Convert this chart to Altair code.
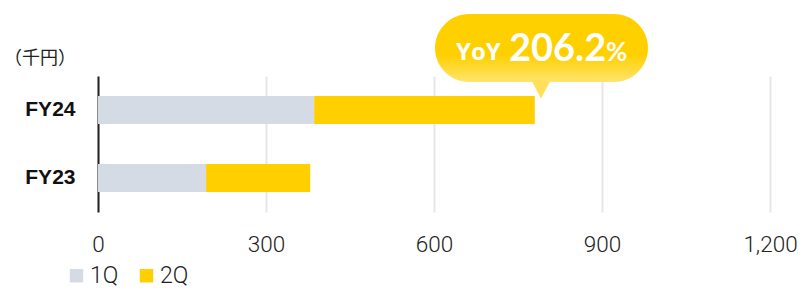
import altair as alt
import pandas as pd

years = ["FY24", "FY24", "FY23", "FY23"]
quarters = ["1Q", "2Q", "1Q", "2Q"]
values = [386, 394, 193, 186]
order_vals = [1, 2, 1, 2]
tick_values = [0, 300, 600, 900, 1200]
series_names = ["1Q", "2Q"]
series_colors = ["#d5dbe4", "#ffcf00"]
unit_label = "（千円）"
yoy_prefix = "YoY"
yoy_value = "206.2"
yoy_suffix = "%"

df = pd.DataFrame({"year": years, "quarter": quarters, "value": values, "ord": order_vals})

W, H = 672, 136
NUM_FONT = "Roboto"

bars = alt.Chart(df).mark_bar().encode(
    y=alt.Y("year:N", sort=["FY24", "FY23"],
            scale=alt.Scale(paddingInner=0.59, paddingOuter=0.295),
            axis=alt.Axis(title=None, ticks=False, domain=True, domainColor="#222222",
                          domainWidth=2, labelFont="Liberation Sans", labelFontWeight="bold",
                          labelFontSize=21, labelColor="#111111", labelPadding=23, grid=False)),
    x=alt.X("value:Q", stack="zero",
            scale=alt.Scale(domain=[0, 1200], nice=False),
            axis=alt.Axis(title=None, values=tick_values, format=",d", ticks=False, domain=False,
                          grid=True, gridColor="#e6e6e6", gridWidth=2, labelFlush=False,
                          labelFont=NUM_FONT, labelFontWeight=300, labelFontSize=22.5,
                          labelColor="#222222", labelPadding=21)),
    color=alt.Color("quarter:N",
                    scale=alt.Scale(domain=series_names, range=series_colors),
                    legend=alt.Legend(title=None, orient="none", legendX=-33, legendY=188,
                                      direction="horizontal", symbolType="square",
                                      symbolSize=180, symbolStrokeWidth=0,
                                      labelFont=NUM_FONT, labelFontWeight=300,
                                      labelFontSize=23, labelColor="#222222",
                                      labelOffset=2, columnPadding=16, padding=0)),
    order=alt.Order("ord:Q"),
)

one = pd.DataFrame({"a": [0]})

unit_text = alt.Chart(one).mark_text(
    text=unit_label, font="Noto Sans CJK JP", fontSize=18, color="#222222",
    align="center", baseline="middle"
).encode(x=alt.value(-58), y=alt.value(-17))

bubble = alt.Chart(one).mark_rect(
    cornerRadius=34,
    fill=alt.Gradient(gradient="linear", x1=0, x2=0, y1=0, y2=1,
                      stops=[alt.GradientStop(offset=0, color="#ffd000"),
                             alt.GradientStop(offset=0.6, color="#ffd000"),
                             alt.GradientStop(offset=1, color="#ffe46e")])
).encode(x=alt.value(337), x2=alt.value(550), y=alt.value(-62), y2=alt.value(6))

tail = alt.Chart(one).mark_point(
    shape="M-1,-1L1,-1L0,0.9Z", filled=True, fill="#ffe058", opacity=1, size=361, strokeWidth=0
).encode(x=alt.value(443), y=alt.value(14))

t1 = alt.Chart(one).mark_text(
    text=yoy_prefix, font="Open Sans", fontWeight="bold", fontSize=24, color="#ffffff",
    align="left", baseline="alphabetic"
).encode(x=alt.value(358), y=alt.value(-16))

t2 = alt.Chart(one).mark_text(
    text=yoy_value, font="Lato", fontWeight="bold", fontSize=38, color="#ffffff",
    align="left", baseline="alphabetic"
).encode(x=alt.value(411), y=alt.value(-15))

t3 = alt.Chart(one).mark_text(
    text=yoy_suffix, font="Lato", fontWeight="bold", fontSize=26, color="#ffffff",
    align="left", baseline="alphabetic"
).encode(x=alt.value(508), y=alt.value(-15))

chart = alt.layer(bars, unit_text, bubble, tail, t1, t2, t3).properties(
    width=W, height=H,
    autosize=alt.AutoSizeParams(type="none"),
    padding={"left": 90, "top": 68, "right": 28, "bottom": 75},
).configure(background="#ffffff").configure_view(stroke=None)

chart.save("out.html", embed_options={"renderer": "svg", "actions": False})
